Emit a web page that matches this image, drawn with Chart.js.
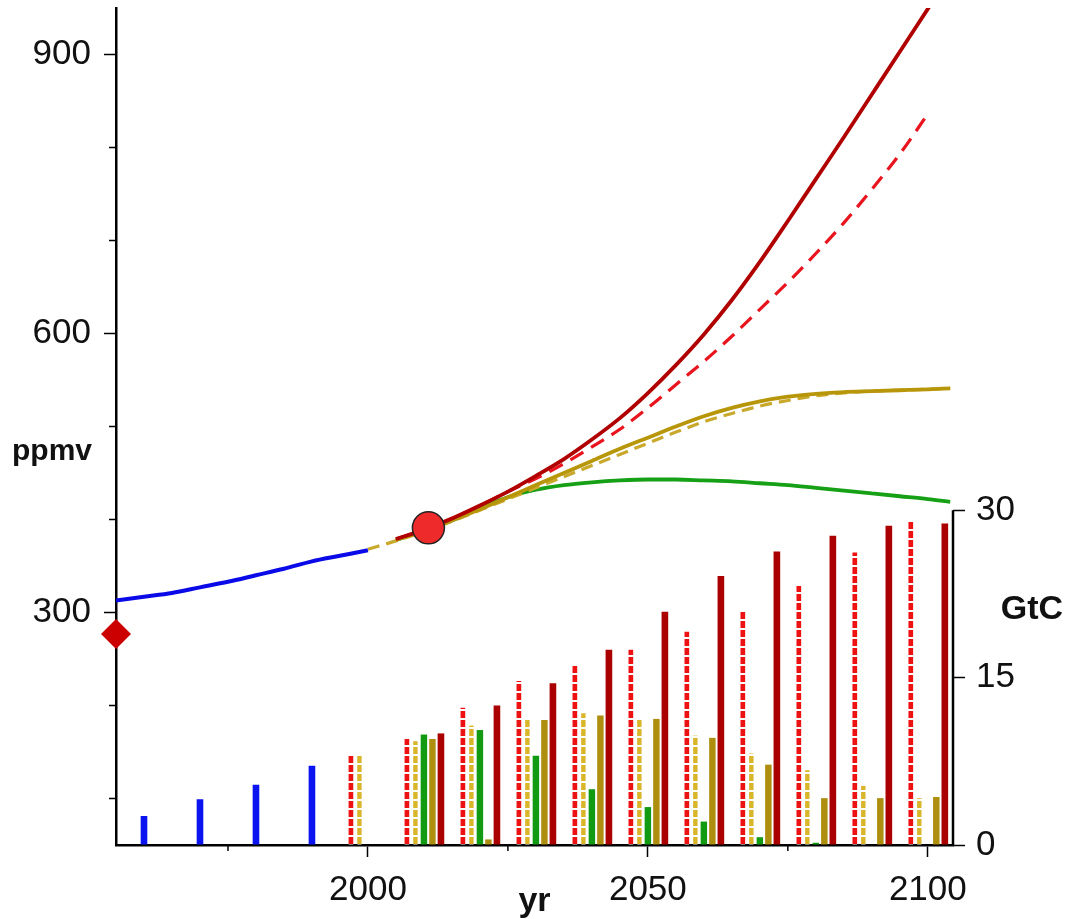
<!DOCTYPE html>
<html lang="en">
<head>
    <meta charset="UTF-8">
    <title>CO2 scenarios</title>
    <script src="https://cdn.jsdelivr.net/npm/chart.js"></script>
    <style>
        body { margin: 0; background: #fff; }
        canvas { display: block; }
    </style>
</head>
<body>
    <canvas id="grafico" width="1067" height="919"></canvas>

    <script>
        // concentration curves (ppmv, left axis)
        const histYears = [1955, 1960, 1965, 1970, 1975, 1980, 1985, 1990, 1995, 2000];
        const histCO2 = [313, 317, 321, 327, 333, 340, 347, 355, 361, 367];

        const scenYears = [2000, 2005, 2010, 2015, 2020, 2025, 2030, 2035, 2040, 2045, 2050,
                           2055, 2060, 2065, 2070, 2075, 2080, 2085, 2090, 2095, 2100, 2104];
        const highCO2 = [null, 379, 389, 401, 415, 430, 447, 465, 486, 509, 536,
                         566, 599, 636, 677, 721, 766, 811, 857, 903, 949, 986];
        const highDashCO2 = [null, 379, 389, 401, 415, 430, 444, 460, 478, 497, 520,
                             545, 570, 597, 626, 655, 686, 719, 755, 793, 836, null];
        const midCO2 = [null, 378, 388, 399, 411, 424, 437, 450, 463, 476, 488,
                        500, 511, 520, 527, 532, 535, 537, 538, 539, 540, 541];
        const midDashCO2 = [368, 377, 387, 398, 410, 422, 434, 446, 458, 470, 482,
                            494, 505, 514, 522, 528, 533, 536, 538, 539, 540, 541];
        const lowCO2 = [null, 378, 388, 399, 412, 424, 432, 437, 440, 442, 443,
                        443, 442, 441, 439, 437, 434, 431, 428, 425, 422, 419];

        const preYear = [1955], preCO2 = [277];
        const nowYear = [2010.8], nowCO2 = [391];

        // emissions (GtC, right axis)
        const histBarYears = [1960, 1970, 1980, 1990];
        const histEmis = [2.6, 4.1, 5.4, 7.1];

        const decades = [2000, 2010, 2020, 2030, 2040, 2050, 2060, 2070, 2080, 2090, 2100];
        const highDashEmis = [8.0, 9.5, 12.3, 14.7, 16.1, 17.5, 19.1, 21.0, 23.2, 26.2, 29.0];
        const midDashEmis = [8.0, 9.3, 10.7, 11.2, 11.8, 11.3, 9.8, 8.2, 6.7, 5.3, 4.2];
        const lowEmis = [null, 9.9, 10.3, 8.0, 5.0, 3.4, 2.1, 0.7, 0.2, null, null];
        const midEmis = [null, 9.5, 0.5, 11.2, 11.6, 11.3, 9.6, 7.2, 4.2, 4.2, 4.3];
        const highEmis = [null, 10.0, 12.5, 14.5, 17.5, 20.9, 24.1, 26.3, 27.7, 28.6, 28.8];

        // axis ticks
        const yearTicks = [1975, 2000, 2025, 2050, 2075, 2100];
        const ppmvTicks = [100, 200, 300, 400, 500, 600, 700, 800, 900];
        const gtcTicks = [0, 15, 30];

        const pts = (xs, ys) => xs.map((x, i) => ({ x: x, y: ys[i] }));
        const fijar = lista => s => { s.ticks = lista.map(v => ({ value: v })); };
        const sinMargen = tam => s => {
            if (s.isHorizontal()) { s.height = tam; } else { s.width = tam; }
            s.paddingTop = 0; s.paddingBottom = 0; s.paddingLeft = 0; s.paddingRight = 0;
        };

        // bars drawn like a thick dashed line
        function rayas(color) {
            const c = document.createElement('canvas');
            c.width = 4; c.height = 9;
            const g = c.getContext('2d');
            g.fillStyle = color; g.fillRect(0, 0, 4, 7);
            g.fillStyle = '#fff'; g.fillRect(0, 7, 4, 2);
            return g.createPattern(c, 'repeat');
        }

        const fuente = "'Liberation Sans', Arial, sans-serif";
        Chart.defaults.font.family = fuente;
        Chart.defaults.color = '#111';

        const extras = {
            id: 'extras',
            afterDraw(chart) {
                const { ctx, scales: { x, y, y2 } } = chart;
                ctx.save();
                ctx.strokeStyle = '#000';
                ctx.lineWidth = 1.5;
                ctx.beginPath();
                x.ticks.forEach(t => {
                    if (t.value % 50 !== 0) {
                        const px = x.getPixelForValue(t.value);
                        ctx.moveTo(px, x.top); ctx.lineTo(px, x.top + 6);
                    }
                });
                y.ticks.forEach(t => {
                    if (t.value % 300 !== 0) {
                        const py = y.getPixelForValue(t.value);
                        ctx.moveTo(y.right, py); ctx.lineTo(y.right - 7, py);
                    }
                });
                ctx.stroke();

                // right axis only goes up to 30
                ctx.lineWidth = 2.5;
                ctx.beginPath();
                ctx.moveTo(y2.left, y2.getPixelForValue(0) + 1);
                ctx.lineTo(y2.left, y2.getPixelForValue(30));
                ctx.stroke();

                ctx.fillStyle = '#111';
                ctx.textAlign = 'center';
                ctx.font = 'bold 30px ' + fuente;
                ctx.fillText('ppmv', 52, 460);
                ctx.font = 'bold 34px ' + fuente;
                ctx.fillText('yr', (x.left + x.right) / 2, 911);
                ctx.fillText('GtC', 1032, 619);
                ctx.restore();
            }
        };

        const linea = (data, color, dash, width) => ({
            type: 'line', data: data, yAxisID: 'y', borderColor: color,
            borderWidth: width || 3.8, borderDash: dash || [], pointRadius: 0,
            cubicInterpolationMode: 'monotone', fill: false, order: 1
        });

        const barra = (data, color, stack, pct) => ({
            type: 'bar', data: data, yAxisID: 'y2', backgroundColor: color,
            stack: stack, barPercentage: pct, categoryPercentage: 0.76,
            borderWidth: 0, order: 2
        });

        new Chart(document.getElementById('grafico'), {
            data: {
                datasets: [
                    {
                        type: 'line', data: pts(nowYear, nowCO2), yAxisID: 'y', showLine: false,
                        pointRadius: 16, pointBackgroundColor: '#EE2A2A', pointBorderColor: '#222',
                        pointBorderWidth: 1.5, clip: false, order: 0
                    },
                    {
                        type: 'line', data: pts(preYear, preCO2), yAxisID: 'y', showLine: false,
                        pointStyle: 'rectRot', pointRadius: 15, pointBackgroundColor: '#CC0000',
                        pointBorderWidth: 0, clip: false, order: 0
                    },
                    linea(pts(scenYears, highCO2), '#B00000'),
                    linea(pts(scenYears, highDashCO2), '#E8141E', [15, 9], 3.2),
                    linea(pts(scenYears, midCO2), '#B8960A'),
                    linea(pts(scenYears, midDashCO2), '#C9A92C', [12, 7], 3.2),
                    linea(pts(scenYears, lowCO2), '#16A016'),
                    linea(pts(histYears, histCO2), '#0A0AE8', [], 4),

                    barra(pts(decades, highDashEmis), rayas('#EE1111'), 'a', 0.55),
                    barra(pts(decades, midDashEmis), rayas('#D9B52A'), 'b', 0.52),
                    barra(pts(decades, lowEmis), '#139A13', 'c', 0.76),
                    barra(pts(decades, midEmis), '#AE8E0E', 'd', 0.76),
                    barra(pts(decades, highEmis), '#AA0000', 'e', 0.78),
                    barra(pts(histBarYears, histEmis), '#0A14F0', 'c', 0.78)
                ]
            },
            options: {
                responsive: false,
                animation: false,
                devicePixelRatio: 1,
                layout: { autoPadding: false, padding: { top: 8, left: 0, right: 0, bottom: 0 } },
                plugins: { legend: { display: false }, tooltip: { enabled: false } },
                scales: {
                    x: {
                        type: 'linear', min: 1955, max: 2104.5, stacked: true, offset: false,
                        afterBuildTicks: fijar(yearTicks),
                        afterFit: sinMargen(74),
                        border: { display: true, color: '#000', width: 2.5 },
                        grid: {
                            offset: false, drawOnChartArea: false, tickLength: 12, tickWidth: 1.5,
                            tickColor: c => (c.tick && c.tick.value % 50 === 0) ? '#000' : 'rgba(0,0,0,0)'
                        },
                        ticks: {
                            autoSkip: false, maxRotation: 0, padding: 12, font: { size: 35 },
                            callback: v => (v % 50 === 0 ? String(v) : '')
                        }
                    },
                    y: {
                        position: 'left', min: 50, max: 950,
                        afterBuildTicks: fijar(ppmvTicks),
                        afterFit: sinMargen(116),
                        border: { display: true, color: '#000', width: 2.5 },
                        grid: {
                            drawOnChartArea: false, tickLength: 12, tickWidth: 1.5,
                            tickColor: c => (c.tick && c.tick.value % 300 === 0) ? '#000' : 'rgba(0,0,0,0)'
                        },
                        ticks: {
                            padding: 13, font: { size: 35 },
                            callback: v => (v % 300 === 0 ? String(v) : '')
                        }
                    },
                    y2: {
                        position: 'right', min: 0, max: 75, stacked: false,
                        afterBuildTicks: fijar(gtcTicks),
                        afterFit: sinMargen(114),
                        border: { display: false },
                        grid: { drawOnChartArea: false, tickLength: 12, tickWidth: 1.5, tickColor: '#000' },
                        ticks: { padding: 11, font: { size: 35 } }
                    }
                }
            },
            plugins: [extras]
        });
    </script>
</body>
</html>
